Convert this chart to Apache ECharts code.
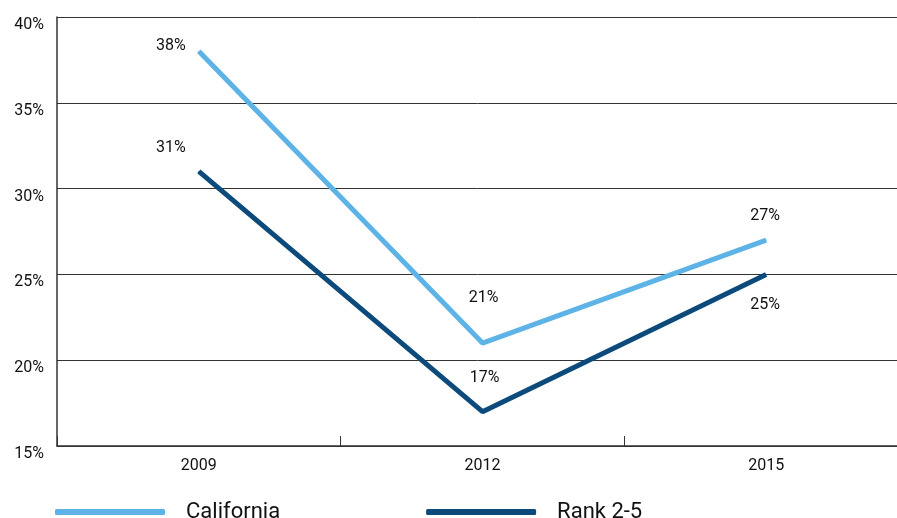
<!DOCTYPE html>
<html><head><meta charset="utf-8">
<script src="https://cdn.jsdelivr.net/npm/echarts@6/dist/echarts.min.js"></script>
<style>html,body{margin:0;padding:0;background:#fff}#c{width:897px;height:518px}</style>
</head><body><div id="c"></div>
<script>
const categories = ['2009', '2012', '2015'];
const california = [38, 21, 27];
const rank25 = [31, 17, 25];
const yTicks = [15, 20, 25, 30, 35, 40];

const labelCfgCal = [
  {position: 'top', offset: [-28, 8]},
  {position: 'top', offset: [1, -32]},
  {position: 'top', offset: [-1, -11]}
];
const labelCfgRank = [
  {position: 'top', offset: [-28, -10]},
  {position: 'top', offset: [2, -20]},
  {position: 'bottom', offset: [-1, 17]}
];

const chart = echarts.init(document.getElementById('c'));
const lblStyle = {fontFamily: 'Roboto', fontSize: 16, color: '#111'};
chart.setOption({
  animation: false,
  grid: {left: 57, top: 17, width: 851, height: 429, outerBoundsMode: 'none', containLabel: false},
  legend: {
    left: 50, top: 496, itemGap: 146,
    itemWidth: 110, itemHeight: 6, icon: 'roundRect',
    textStyle: {fontFamily: 'Roboto', fontSize: 22, color: '#111', padding: [0, 0, 0, 16]},
    data: ['California', 'Rank 2-5']
  },
  xAxis: {
    type: 'category', data: categories, boundaryGap: true,
    axisLine: {lineStyle: {color: '#333', width: 1.5}},
    axisTick: {show: true, inside: true, length: 10, lineStyle: {color: '#333'}, interval: 0},
    axisLabel: {fontFamily: 'Roboto', fontSize: 16, color: '#111', margin: 12}
  },
  yAxis: {
    type: 'value', min: yTicks[0], max: yTicks[yTicks.length - 1], interval: 5,
    axisLine: {show: true, lineStyle: {color: '#333', width: 1.5}},
    axisTick: {show: false},
    splitLine: {lineStyle: {color: '#333', width: 1}},
    axisLabel: {fontFamily: 'Roboto', fontSize: 16, color: '#111', margin: 13, formatter: v => v + '%', verticalAlign: 'top'}
  },
  series: [
    {
      name: 'California', type: 'line', symbol: 'circle', symbolSize: 1, showSymbol: true,
      lineStyle: {color: '#5DB3E6', width: 5},
      itemStyle: {color: '#5DB3E6'},
      data: california.map((v, i) => ({value: v, label: Object.assign({show: true, formatter: '{c}%'}, lblStyle, labelCfgCal[i])}))
    },
    {
      name: 'Rank 2-5', type: 'line', symbol: 'circle', symbolSize: 1, showSymbol: true,
      lineStyle: {color: '#0B4A7A', width: 5},
      itemStyle: {color: '#0B4A7A'},
      data: rank25.map((v, i) => ({value: v, label: Object.assign({show: true, formatter: '{c}%'}, lblStyle, labelCfgRank[i])}))
    }
  ]
});
</script></body></html>
